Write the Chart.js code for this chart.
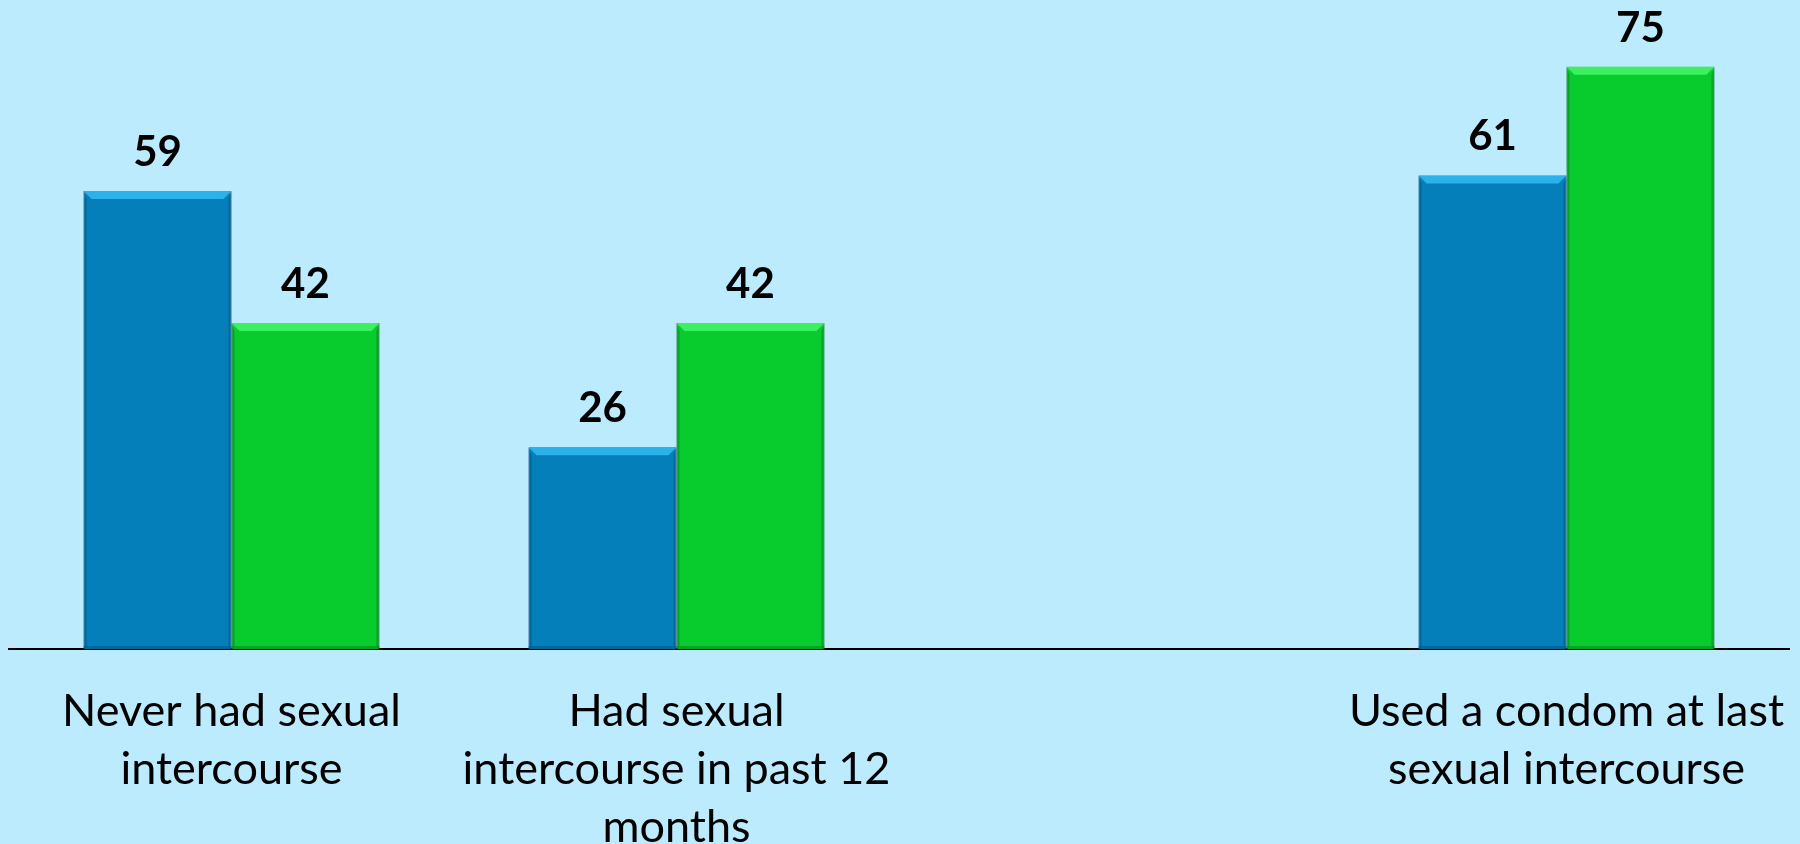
<!DOCTYPE html>
<html>
<head>
<meta charset="utf-8">
<script src="https://cdn.jsdelivr.net/npm/chart.js@4/dist/chart.umd.min.js"></script>
<style>
  body { margin: 0; background: #bdebfe; }
  #myChart { display: block; }
</style>
</head>
<body>
<canvas id="myChart" width="1800" height="844"></canvas>
<script>
// categories (third slot is an empty gap in the original)
var categorie = [
  ['Never had sexual', 'intercourse'],
  ['Had sexual', 'intercourse in past 12', 'months'],
  '',
  ['Used a condom at last', 'sexual intercourse']
];
var serie_blu = [59, 26, null, 61];
var serie_verde = [42, 42, null, 75];

var colore_blu = '#047fba';
var colore_verde = '#08cc2e';

// bevel on top of each bar + value labels
var bevelPlugin = {
  id: 'bevel',
  afterDatasetsDraw: function(chart) {
    var ctx = chart.ctx;
    chart.data.datasets.forEach(function(ds, i) {
      var meta = chart.getDatasetMeta(i);
      meta.data.forEach(function(bar, j) {
        if (ds.data[j] == null) return;
        var l = bar.x - bar.width / 2;
        var r = bar.x + bar.width / 2;
        var t = bar.y;
        var b = bar.base;
        var d = 8;
        ctx.save();
        // top light strip
        ctx.fillStyle = ds.bevelTop;
        ctx.beginPath();
        ctx.moveTo(l, t);
        ctx.lineTo(r, t);
        ctx.lineTo(r - d, t + d);
        ctx.lineTo(l + d, t + d);
        ctx.closePath();
        ctx.fill();
        // side shading
        ctx.fillStyle = ds.bevelSide;
        ctx.beginPath();
        ctx.moveTo(r, t);
        ctx.lineTo(r, b);
        ctx.lineTo(r - 3, b - 3);
        ctx.lineTo(r - 3, t + d);
        ctx.closePath();
        ctx.fill();
        ctx.beginPath();
        ctx.moveTo(l, t);
        ctx.lineTo(l, b);
        ctx.lineTo(l + 3, b - 3);
        ctx.lineTo(l + 3, t + d);
        ctx.closePath();
        ctx.fill();
        ctx.fillRect(l, b - 3, r - l, 3);
        // value label
        ctx.fillStyle = '#000';
        ctx.font = 'bold 42px Lato';
        ctx.textAlign = 'center';
        ctx.textBaseline = 'alphabetic';
        ctx.fillText(ds.data[j], bar.x, t - 25);
        ctx.restore();
      });
    });
  }
};

var ctx = document.getElementById('myChart').getContext('2d');
var chart = new Chart(ctx, {
  type: 'bar',
  data: {
    labels: categorie,
    datasets: [{
      label: 'blu',
      data: serie_blu,
      backgroundColor: colore_blu,
      borderColor: '#0a6a9c',
      borderWidth: 1,
      bevelTop: '#2cb2ea',
      bevelSide: 'rgba(0,60,100,0.35)'
    }, {
      label: 'verde',
      data: serie_verde,
      backgroundColor: colore_verde,
      borderColor: '#0a9a2a',
      borderWidth: 1,
      bevelTop: '#3cf060',
      bevelSide: 'rgba(0,90,20,0.35)'
    }]
  },
  options: {
    responsive: false,
    animation: false,
    layout: { padding: { left: 9, right: 11, top: 0, bottom: 0 } },
    datasets: {
      bar: { categoryPercentage: 0.665, barPercentage: 1.0 }
    },
    plugins: {
      legend: { display: false },
      tooltip: { enabled: false }
    },
    scales: {
      x: {
        grid: { display: false, drawTicks: false },
        border: { display: true, color: '#000', width: 2 },
        ticks: {
          color: '#000',
          font: { family: 'Lato', size: 45, lineHeight: 1.29 },
          padding: 33,
          maxRotation: 0,
          autoSkip: false
        },
        afterFit: function(scale) {
          scale.height = 195;
          // labels fit inside the canvas, no extra side padding
          scale.paddingLeft = 0;
          scale.paddingRight = 0;
        }
      },
      y: {
        display: false,
        min: 0,
        max: 83.6
      }
    }
  },
  plugins: [bevelPlugin]
});
</script>
</body>
</html>
